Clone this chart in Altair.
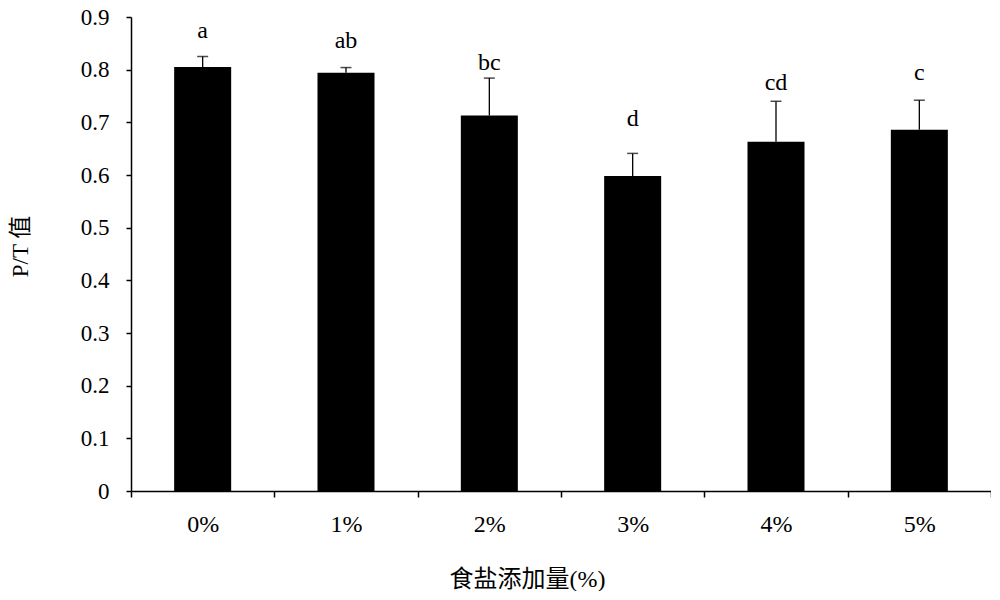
import altair as alt
import pandas as pd

categories = ["0%", "1%", "2%", "3%", "4%", "5%"]
means = [0.805, 0.794, 0.713, 0.598, 0.663, 0.686]
err_top = [0.825, 0.804, 0.784, 0.641, 0.740, 0.742]
letters = ["a", "ab", "bc", "d", "cd", "c"]
letter_y = [0.861, 0.842, 0.799, 0.693, 0.761, 0.780]

df = pd.DataFrame({"cat": categories, "mean": means, "top": err_top,
                   "letter": letters, "ly": letter_y})

FONT = "Liberation Serif, Times New Roman, Noto Sans CJK SC"

x = alt.X("cat:N", sort=categories, scale=alt.Scale(paddingInner=0, paddingOuter=0),
          axis=alt.Axis(title="食盐添加量(%)", labelAngle=0, tickBand="extent",
                        domainColor="black", domainWidth=1.5, tickColor="black",
                        tickWidth=1.5, tickSize=6, labelFontSize=24, labelPadding=15,
                        labelColor="black", labelFont=FONT, titleFont=FONT,
                        titleFontSize=24, titleFontWeight="normal", titleColor="black",
                        titleX=396, titleY=88, titleBaseline="middle"))

y_scale = alt.Scale(domain=[0, 0.9], nice=False)

bars = alt.Chart(df).mark_bar(color="black", size=57).encode(
    x=x,
    y=alt.Y("mean:Q", scale=y_scale,
            axis=alt.Axis(title="P/T 值", values=[i / 10 for i in range(10)], format="~g",
                          grid=False, domainColor="black", domainWidth=1.5,
                          tickColor="black", tickWidth=1.5, tickSize=5,
                          labelFontSize=23, labelColor="black", labelFont=FONT,
                          labelPadding=17, titleFont=FONT, titleFontSize=23,
                          titleFontWeight="normal", titleColor="black",
                          titleX=-111, titleY=229, titleAngle=-90,
                          titleBaseline="middle")),
)

err = alt.Chart(df).mark_rule(color="black", strokeWidth=1.3).encode(
    x=alt.X("cat:N", sort=categories),
    y=alt.Y("mean:Q", scale=y_scale),
    y2="top:Q",
)

caps = alt.Chart(df).mark_tick(color="black", size=11, thickness=1.5).encode(
    x=alt.X("cat:N", sort=categories),
    y=alt.Y("top:Q", scale=y_scale),
)

labels = alt.Chart(df).mark_text(font=FONT, fontSize=24, color="black",
                                 baseline="alphabetic").encode(
    x=alt.X("cat:N", sort=categories),
    y=alt.Y("ly:Q", scale=y_scale),
    text="letter:N",
)

chart = alt.layer(bars, err, caps, labels).properties(
    width=860, height=474,
    autosize=alt.AutoSizeParams(type="none"),
    padding={"left": 123, "top": 9, "right": 0, "bottom": 100},
    background="white",
).configure_view(stroke=None)

chart.save("out.html", embed_options={"renderer": "svg", "actions": False})
